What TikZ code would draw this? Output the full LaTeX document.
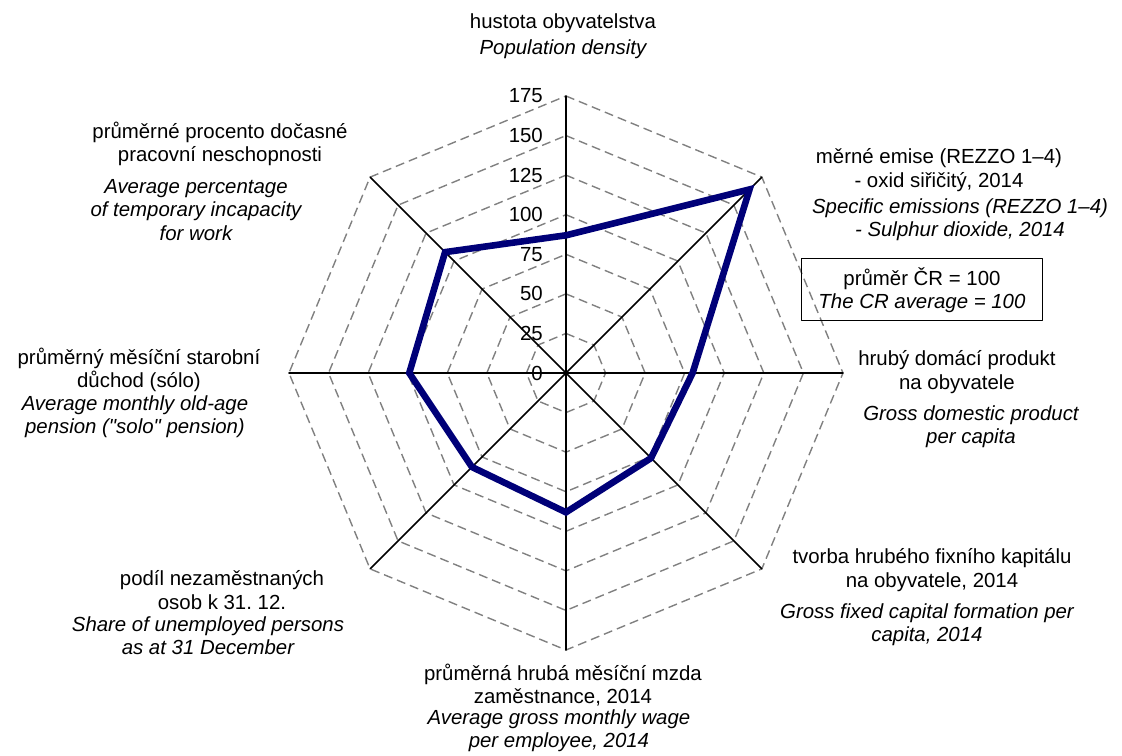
\documentclass[tikz,border=0pt]{standalone}
\usepackage{fontspec}
\setmainfont{Liberation Sans}
\usetikzlibrary{positioning}
\definecolor{navyline}{RGB}{0,0,120}
\definecolor{gridgray}{RGB}{128,128,128}
\def\u{0.027816}
\frenchspacing

\begin{document}
\begin{tikzpicture}[line cap=round,line join=round,x=1.0cm,y=1.0cm,
  gridline/.style={color=gridgray,line width=0.7pt,line cap=butt,dash pattern=on 4.5pt off 2.5pt},
  axisline/.style={color=black,line width=0.75pt},
  dataline/.style={color=navyline,line width=3.3pt,line join=miter},
  cz/.style={align=center,inner sep=0pt,font=\fontsize{10.2}{11.65}\selectfont},
  en/.style={align=center,inner sep=0pt,font=\fontsize{10.2}{11.65}\selectfont\itshape}]
\useasboundingbox (-9.946,-6.713) rectangle (9.771,6.555);
\coordinate (O) at (0,0);
% dashed octagons
\foreach \r in {25,50,...,175}
  \draw[gridline] (90:{\r*\u}) \foreach \a in {45,0,-45,-90,-135,-180,-225} {-- (\a:{\r*\u})} -- cycle;
% axes
\foreach \a/\n in {90/n,45/ne,0/e,-45/se,-90/s,-135/sw,180/w,135/nw}
  \coordinate (\n) at (\a:{175*\u});
\foreach \n in {n,ne,e,se,s,sw,w,nw}
  \draw[axisline] (O) -- (\n);
% scale
\foreach \v in {0,25,...,175}
  \node[anchor=east,inner sep=0pt,font=\fontsize{10.2}{12}\selectfont] (t\v) at (-0.40,{\v*\u}) {\v};
% values
\foreach \a/\n/\v in {90/n/87,45/ne/164,0/e/80,-45/se/76,-90/s/88,-135/sw/84,180/w/99,135/nw/108}
  \coordinate (d\n) at (\a:{\v*\u});
\draw[dataline] (dn) -- (dne) -- (de) -- (dse) -- (ds) -- (dsw) -- (dw) -- (dnw) -- cycle;
% labels
\node[cz] (ncz) at (-0.053,6.151) {hustota obyvatelstva};
\node[en] (nen) at (-0.053,5.694) {Population density};
\node[cz] (necz) at (6.555,3.567) {měrné emise (REZZO 1–4)\\- oxid siřičitý, 2014};
\node[en] (neen) at (6.924,2.697) {Specific emissions (REZZO 1–4)\\- Sulphur dioxide, 2014};
\node[cz] (ecz) at (6.871,0.018) {hrubý domácí produkt\\na obyvatele};
\node[en] (een) at (7.117,-0.940) {Gross domestic product\\per capita};
\node[cz] (secz) at (6.432,-3.462) {tvorba hrubého fixního kapitálu\\na obyvatele, 2014};
\node[en] (seen) at (6.344,-4.428) {Gross fixed capital formation per\\capita, 2014};
\node[cz] (scz) at (-0.053,-5.483) {průměrná hrubá měsíční mzda\\zaměstnance, 2014};
\node[en] (sen) at (-0.123,-6.291) {Average gross monthly wage\\per employee, 2014};
\node[cz] (swcz) at (-6.045,-3.813) {podíl nezaměstnaných\\osob k 31. 12.};
\node[en] (swen) at (-6.291,-4.622) {Share of unemployed persons\\as at 31 December};
\node[cz] (wcz) at (-7.504,0.053) {průměrný měsíční starobní\\důchod (sólo)};
\node[en] (wen) at (-7.574,-0.764) {Average monthly old-age\\pension (\textquotedbl solo\textquotedbl\ pension)};
\node[cz] (nwcz) at (-6.080,4.024) {průměrné procento dočasné\\pracovní neschopnosti};
\node[en] (nwen) at (-6.502,2.864) {Average percentage\\of temporary incapacity\\for work};
% average box
\node[draw,line width=0.5pt,minimum width=4.235cm,minimum height=1.09cm,align=center,
  font=\fontsize{10.2}{11.65}\selectfont] (avg) at (6.256,1.459) {průměr ČR = 100\\\textit{The CR average = 100}};
\end{tikzpicture}
\end{document}
